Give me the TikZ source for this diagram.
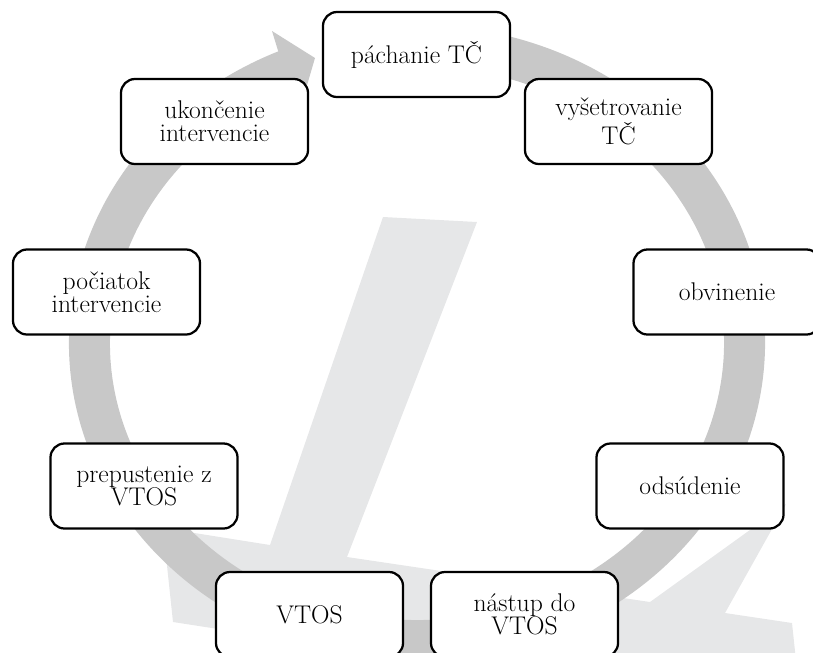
\documentclass[tikz,border=0pt]{standalone}
\usepackage{tikz}
\definecolor{kruhsiva}{HTML}{C8C8C8}
\definecolor{pozadie}{HTML}{E6E7E8}

\begin{document}
\begin{tikzpicture}[
  x=0.025cm, y=0.025cm,
  font=\fontsize{18.2}{16.4}\selectfont,
  stage/.style={draw=black, line width=1.6pt, rounded corners=10pt, align=center, fill=white, minimum width=4.675cm, minimum height=2.125cm, inner sep=2pt},
  ring/.style={draw=kruhsiva, line width=1.025cm}
]
\useasboundingbox (0,0) rectangle (813,-652);
\clip (0,0) rectangle (813,-652);

% background shape
\fill[pozadie] (383,-217) -- (477,-222) -- (347,-557) -- (650,-602) -- (786,-504) -- (725,-613) -- (792,-623) -- (797,-670) -- (483,-670) -- (173,-622) -- (163,-528) -- (270,-545) -- cycle;

% cycle arrow
\coordinate (ctr) at (417,-343);
\draw[ring] (ctr) ++(80:327.5 and 297.5) arc[start angle=80, end angle=-248, x radius=327.5, y radius=297.5];
\fill[kruhsiva] (272,-31) -- (315,-58) -- (298,-116) -- cycle;

\node[stage] (pachanie) at (416.5,-54.5) {páchanie TČ};
\node[stage] (vysetrovanie) at (618.5,-121.5) {vyšetrovanie\\TČ};
\node[stage] (obvinenie) at (727,-292) {obvinenie};
\node[stage] (odsudenie) at (690,-486) {odsúdenie};
\node[stage] (nastup) at (524.5,-614.5) {nástup do\\VTOS};
\node[stage] (vtos) at (309.5,-614.5) {VTOS};
\node[stage] (prepustenie) at (144,-486) {prepustenie z\\VTOS};
\node[stage] (pociatok) at (106.5,-292) {počiatok\\intervencie};
\node[stage] (ukoncenie) at (214.5,-121.5) {ukončenie\\intervencie};
\end{tikzpicture}
\end{document}
